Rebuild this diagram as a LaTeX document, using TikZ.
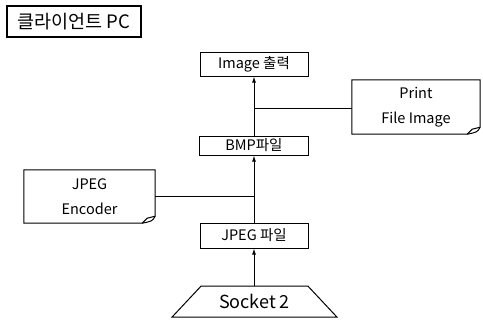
\documentclass[tikz,border=0pt]{standalone}
\usepackage{fontspec}
\setmainfont{Noto Sans CJK KR}
\usetikzlibrary{shapes.geometric,arrows.meta}
\tikzset{
  stepbox/.style={draw, line width=1pt, inner sep=0pt, font=\fontsize{14.5}{16}\selectfont},
  docbox/.style={inner sep=0pt, align=center, font=\fontsize{14.5}{25}\selectfont},
  flow/.style={line width=1pt, -{Latex[length=6pt,width=4pt]}},
  link/.style={line width=1pt}
}
% document outline with a folded corner
\newcommand{\docoutline}[1]{%
  \draw[link] (#1.north west) -- (#1.north east) -- ([yshift=7]#1.south east)
    .. controls ([xshift=-3,yshift=2]#1.south east) .. ([xshift=-13]#1.south east)
    -- (#1.south west) -- cycle;
  \draw[link] ([xshift=-13]#1.south east) -- ([xshift=-8,yshift=5]#1.south east)
    -- ([yshift=7]#1.south east);
}
\begin{document}
\begin{tikzpicture}[x=1pt,y=-1pt]
  \useasboundingbox (0,0) rectangle (483,322);
  % title
  \node[draw, line width=1.8pt, minimum width=134, minimum height=31, inner sep=0pt,
        font=\fontsize{18.5}{20}\selectfont] (title) at (74,21.5) {클라이언트 PC};
  % main column
  \node[stepbox, minimum width=108, minimum height=24] (img) at (254,64) {Image 출력};
  \node[stepbox, minimum width=109, minimum height=19] (bmp) at (254,145.5) {BMP파일};
  \node[stepbox, minimum width=108, minimum height=25] (jpg) at (254,235.5) {JPEG 파일};
  \node[trapezium, draw, line width=1pt, trapezium stretches=true,
        trapezium left angle=37, trapezium right angle=37,
        minimum width=165, minimum height=31, inner sep=0pt,
        font=\fontsize{18}{20}\selectfont] (sock) at (254.5,301.5) {Socket 2};
  % side documents
  \node[docbox, minimum width=131, minimum height=53] (enc) at (89.5,196.5) {JPEG\\Encoder};
  \node[docbox, minimum width=128, minimum height=54] (prt) at (416,107) {Print\\File Image};
  \docoutline{enc}
  \docoutline{prt}
  % arrows
  \draw[flow] (sock.north -| jpg.south) -- (jpg.south);
  \draw[flow] (jpg) -- (bmp);
  \draw[flow] (bmp) -- (img);
  % side links
  \coordinate (jp) at (enc.east -| bmp.south);
  \coordinate (pp) at ([yshift=-1]prt.west -| img.south);
  \draw[link] (enc.east) -- (jp);
  \draw[link] ([yshift=-1]prt.west) -- (pp);
\end{tikzpicture}
\end{document}
